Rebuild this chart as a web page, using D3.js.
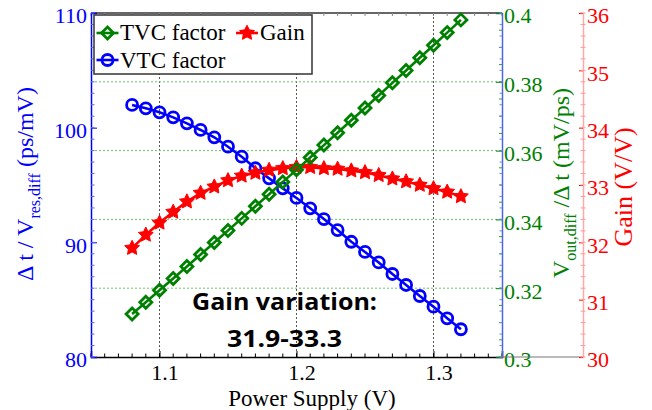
<!DOCTYPE html>
<html>
<head>
<meta charset="utf-8">
<script src="https://cdn.jsdelivr.net/npm/d3@7"></script>
<style>
  html, body { margin: 0; padding: 0; background: #fff; }
  svg { display: block; }
  .serif { font-family: "Liberation Serif", "Times New Roman", serif; }
</style>
</head>
<body>
<svg id="chart" width="652" height="410"></svg>
<script>
// Supply sweep (V)
const supply = [1.08, 1.09, 1.10, 1.11, 1.12, 1.13, 1.14, 1.15, 1.16, 1.17, 1.18, 1.19,
                1.20, 1.21, 1.22, 1.23, 1.24, 1.25, 1.26, 1.27, 1.28, 1.29, 1.30, 1.31, 1.32];
// VTC factor, Δt / Vres,diff (ps/mV)
const vtcFactor = [101.98, 101.69, 101.34, 100.90, 100.38, 99.80, 99.16, 98.34, 97.47, 96.46, 95.58, 94.71,
                   93.87, 92.97, 92.03, 91.07, 90.05, 89.16, 88.25, 87.24, 86.28, 85.32, 84.39, 83.37, 82.42];
// TVC factor, Vout,diff / Δt (mV/ps)
const tvcFactor = [0.3125, 0.3159, 0.3194, 0.3228, 0.3263, 0.3298, 0.3333, 0.3368, 0.3403, 0.3438, 0.3473, 0.3509,
                   0.3544, 0.3580, 0.3616, 0.3652, 0.3688, 0.3724, 0.3760, 0.3797, 0.3833, 0.3870, 0.3906, 0.3943, 0.3980];
// Amplifier gain (V/V)
const gain = [31.90, 32.13, 32.34, 32.53, 32.71, 32.86, 32.97, 33.08, 33.16, 33.21, 33.26, 33.29,
              33.31, 33.31, 33.29, 33.28, 33.25, 33.22, 33.17, 33.11, 33.06, 33.00, 32.94, 32.88, 32.80];

const xTicks = [1.1, 1.2, 1.3];
const vtcTicks = [80, 90, 100, 110];
const tvcTicks = [0.3, 0.32, 0.34, 0.36, 0.38, 0.4];
const tvcTickLabels = ["0.3", "0.32", "0.34", "0.36", "0.38", "0.4"];
const gainTicks = [30, 31, 32, 33, 34, 35, 36];
const legendItems = ["TVC factor", "Gain", "VTC factor"];

const BLUE = "#0000ff", GREEN = "#008000", RED = "#ff0000";
const SERIF = '"Liberation Serif", "Times New Roman", serif';
const SANS_BOLD = '"Open Sans", "Noto Sans", sans-serif';

const L = 91, R = 502, T = 13, B = 357;
const RED_AXIS_X = 583;

const svg = d3.select("#chart");

const x = d3.scaleLinear().domain([1.05, 1.35]).range([L, R]);
const yV = d3.scaleLinear().domain([80, 110]).range([B, T]);
const yT = d3.scaleLinear().domain([0.3, 0.4]).range([B, T]);
const yG = d3.scaleLinear().domain([30, 36]).range([B, T]);

function serifText(sel, size, color) {
  return sel.attr("class", "serif").style("font-family", SERIF)
    .style("font-size", size + "px").attr("fill", color);
}

// grid
const grid = svg.append("g");
grid.selectAll("line.v").data(xTicks).join("line")
  .attr("x1", d => x(d)).attr("x2", d => x(d)).attr("y1", T).attr("y2", B)
  .attr("stroke", "#555").attr("stroke-width", 1).attr("stroke-dasharray", "2,2");
grid.selectAll("line.h").data(tvcTicks.slice(1, -1)).join("line")
  .attr("x1", L).attr("x2", R).attr("y1", d => yT(d)).attr("y2", d => yT(d))
  .attr("stroke", "#6cc46c").attr("stroke-width", 1).attr("stroke-dasharray", "2,2");

// evenly spaced minor tick positions
function steps(a, b, step) {
  const out = [];
  const n = Math.round((b - a) / step);
  for (let i = 0; i <= n; i++) out.push(+(a + i * step).toFixed(6));
  return out;
}

// top frame line with small ticks
svg.append("line").attr("x1", L).attr("x2", R).attr("y1", T).attr("y2", T)
  .attr("stroke", "#333").attr("stroke-width", 1.5);
svg.append("g").selectAll("line").data(steps(1.05, 1.35, 0.01)).join("line")
  .attr("x1", d => x(d)).attr("x2", d => x(d)).attr("y1", T).attr("y2", T + 3)
  .attr("stroke", "#888");

// bottom axis
const gx = svg.append("g").attr("transform", `translate(0,${B})`)
  .call(d3.axisBottom(x).tickValues(xTicks).tickFormat(d3.format(".1f")).tickSize(-6).tickPadding(7));
gx.select(".domain").attr("stroke", "#000").attr("stroke-width", 1.5);
gx.selectAll(".tick line").attr("stroke", "#000");
serifText(gx.selectAll("text"), 22, "#000").attr("dx", 5);
svg.append("g").selectAll("line").data(steps(1.05, 1.35, 0.01)).join("line")
  .attr("x1", d => x(d)).attr("x2", d => x(d)).attr("y1", B).attr("y2", B - 3.5)
  .attr("stroke", "#000");

// left axis (VTC)
const gl = svg.append("g").attr("transform", `translate(${L},0)`)
  .call(d3.axisLeft(yV).tickValues(vtcTicks).tickFormat(d3.format("d")).tickSize(-6).tickPadding(4));
gl.select(".domain").attr("stroke", BLUE).attr("stroke-width", 1.5);
gl.selectAll(".tick line").attr("stroke", BLUE);
serifText(gl.selectAll("text"), 22, BLUE).attr("dy", "0.45em");
svg.append("g").selectAll("line").data(steps(80, 110, 1)).join("line")
  .attr("x1", L).attr("x2", L + 3.5).attr("y1", d => yV(d)).attr("y2", d => yV(d))
  .attr("stroke", "#5566ff");

// right frame / TVC axis
const gt = svg.append("g").attr("transform", `translate(${R},0)`)
  .call(d3.axisRight(yT).tickValues(tvcTicks).tickFormat((d, i) => tvcTickLabels[i]).tickSize(-6).tickPadding(2));
gt.select(".domain").attr("stroke", "#4a6ad8").attr("stroke-width", 1.5);
gt.selectAll(".tick line").attr("stroke", GREEN);
serifText(gt.selectAll("text"), 22, GREEN).attr("dy", "0.45em");
svg.append("g").selectAll("line").data(steps(0.3, 0.4, 0.005)).join("line")
  .attr("x1", R).attr("x2", R - 3).attr("y1", d => yT(d)).attr("y2", d => yT(d))
  .attr("stroke", "#3a9a3a");
svg.append("g").selectAll("line").data(steps(80, 110, 1)).join("line")
  .attr("x1", R).attr("x2", R - 2.5).attr("y1", d => yV(d)).attr("y2", d => yV(d))
  .attr("stroke", "#7088ee");

// baseline joining the offset gain axis
svg.append("line").attr("x1", R).attr("x2", RED_AXIS_X).attr("y1", B).attr("y2", B)
  .attr("stroke", "#777").attr("stroke-width", 1.2);

// gain axis
const gg = svg.append("g").attr("transform", `translate(${RED_AXIS_X},0)`)
  .call(d3.axisRight(yG).tickValues(gainTicks).tickFormat(d3.format("d")).tickSize(-4).tickPadding(4));
gg.select(".domain").attr("stroke", "#ffaaaa").attr("stroke-width", 1.5);
gg.selectAll(".tick line").attr("stroke", RED);
serifText(gg.selectAll("text"), 22, RED).attr("dy", "0.45em");
svg.append("g").selectAll("line").data(steps(30, 36, 0.2)).join("line")
  .attr("x1", RED_AXIS_X - 2.5).attr("x2", RED_AXIS_X + 2.5).attr("y1", d => yG(d)).attr("y2", d => yG(d))
  .attr("stroke", "#ff9a9a");

// axis titles
serifText(svg.append("text"), 23, "#000")
  .attr("x", 312).attr("y", 406).attr("text-anchor", "middle").text("Power Supply (V)");

const tl = serifText(svg.append("text"), 24, BLUE)
  .attr("transform", "translate(33,184) rotate(-90)").attr("text-anchor", "middle");
tl.append("tspan").text("\u0394 t / V");
tl.append("tspan").style("font-size", "16px").attr("dy", 7).text("res,diff");
tl.append("tspan").attr("dy", -7).text(" (ps/mV)");

const tg = serifText(svg.append("text"), 24, GREEN)
  .attr("transform", "translate(569,183) rotate(-90)").attr("text-anchor", "middle");
tg.append("tspan").text("V");
tg.append("tspan").style("font-size", "16px").attr("dy", 7).text("out,diff");
tg.append("tspan").attr("dy", -7).text(" /\u0394 t (mV/ps)");

serifText(svg.append("text"), 26, RED)
  .attr("transform", "translate(632,187) rotate(-90)").attr("text-anchor", "middle")
  .text("Gain (V/V)");

// markers
const diamond = "M0,-6L6,0L0,6L-6,0Z";
const star = (() => {
  const pts = [];
  for (let k = 0; k < 10; k++) {
    const r = k % 2 === 0 ? 7.8 : 3.9;
    const a = -Math.PI / 2 + k * Math.PI / 5;
    pts.push([r * Math.cos(a), r * Math.sin(a)]);
  }
  return "M" + pts.map(p => p[0].toFixed(2) + "," + p[1].toFixed(2)).join("L") + "Z";
})();

function drawLine(values, yScale, color) {
  svg.append("path").datum(values)
    .attr("fill", "none").attr("stroke", color).attr("stroke-width", 2.6)
    .attr("d", d3.line().x((d, i) => x(supply[i])).y(d => yScale(d)));
}

drawLine(vtcFactor, yV, BLUE);
svg.append("g").selectAll("circle").data(vtcFactor).join("circle")
  .attr("cx", (d, i) => x(supply[i])).attr("cy", d => yV(d)).attr("r", 5.5)
  .attr("fill", "none").attr("stroke", BLUE).attr("stroke-width", 2.8);

drawLine(gain, yG, RED);
svg.append("g").selectAll("path").data(gain).join("path")
  .attr("transform", (d, i) => `translate(${x(supply[i])},${yG(d)})`)
  .attr("d", star).attr("fill", RED).attr("stroke", RED).attr("stroke-width", 1);

drawLine(tvcFactor, yT, GREEN);
svg.append("g").selectAll("path").data(tvcFactor).join("path")
  .attr("transform", (d, i) => `translate(${x(supply[i])},${yT(d)})`)
  .attr("d", diamond).attr("fill", "none").attr("stroke", GREEN).attr("stroke-width", 2.8);

// legend
const lg = svg.append("g");
lg.append("rect").attr("x", 94).attr("y", 15).attr("width", 218).attr("height", 59)
  .attr("fill", "#fff").attr("stroke", "#333").attr("stroke-width", 1.5);
const legendRows = [
  { label: legendItems[0], color: GREEN, kind: "diamond", sx: 107.5, sy: 33, tx: 120, ty: 40 },
  { label: legendItems[1], color: RED, kind: "star", sx: 247, sy: 33, tx: 260, ty: 40 },
  { label: legendItems[2], color: BLUE, kind: "circle", sx: 107.5, sy: 60, tx: 120, ty: 68 }
];
legendRows.forEach(r => {
  lg.append("line").attr("x1", r.sx - 11).attr("x2", r.sx + 11).attr("y1", r.sy).attr("y2", r.sy)
    .attr("stroke", r.color).attr("stroke-width", 2.6);
  if (r.kind === "diamond") {
    lg.append("path").attr("transform", `translate(${r.sx},${r.sy})`).attr("d", diamond)
      .attr("fill", "none").attr("stroke", r.color).attr("stroke-width", 2.8);
  } else if (r.kind === "star") {
    lg.append("path").attr("transform", `translate(${r.sx},${r.sy})`).attr("d", star)
      .attr("fill", r.color).attr("stroke", r.color).attr("stroke-width", 1);
  } else {
    lg.append("circle").attr("cx", r.sx).attr("cy", r.sy).attr("r", 5.5)
      .attr("fill", "none").attr("stroke", r.color).attr("stroke-width", 2.8);
  }
  serifText(lg.append("text"), 23, "#000").attr("x", r.tx).attr("y", r.ty).text(r.label);
});

// annotation
const gainMin = d3.min(gain).toFixed(1), gainMax = d3.max(gain).toFixed(1);
svg.append("text").attr("x", 284.5).attr("y", 310).attr("text-anchor", "middle")
  .style("font-family", SANS_BOLD).style("font-weight", "bold").style("font-size", "24px")
  .attr("fill", "#000").attr("textLength", 185).attr("lengthAdjust", "spacingAndGlyphs")
  .text("Gain variation:");
svg.append("text").attr("x", 284.5).attr("y", 347).attr("text-anchor", "middle")
  .style("font-family", SANS_BOLD).style("font-weight", "bold").style("font-size", "24px")
  .attr("fill", "#000").attr("textLength", 115).attr("lengthAdjust", "spacingAndGlyphs")
  .text(`${gainMin}-${gainMax}`);
</script>
</body>
</html>
